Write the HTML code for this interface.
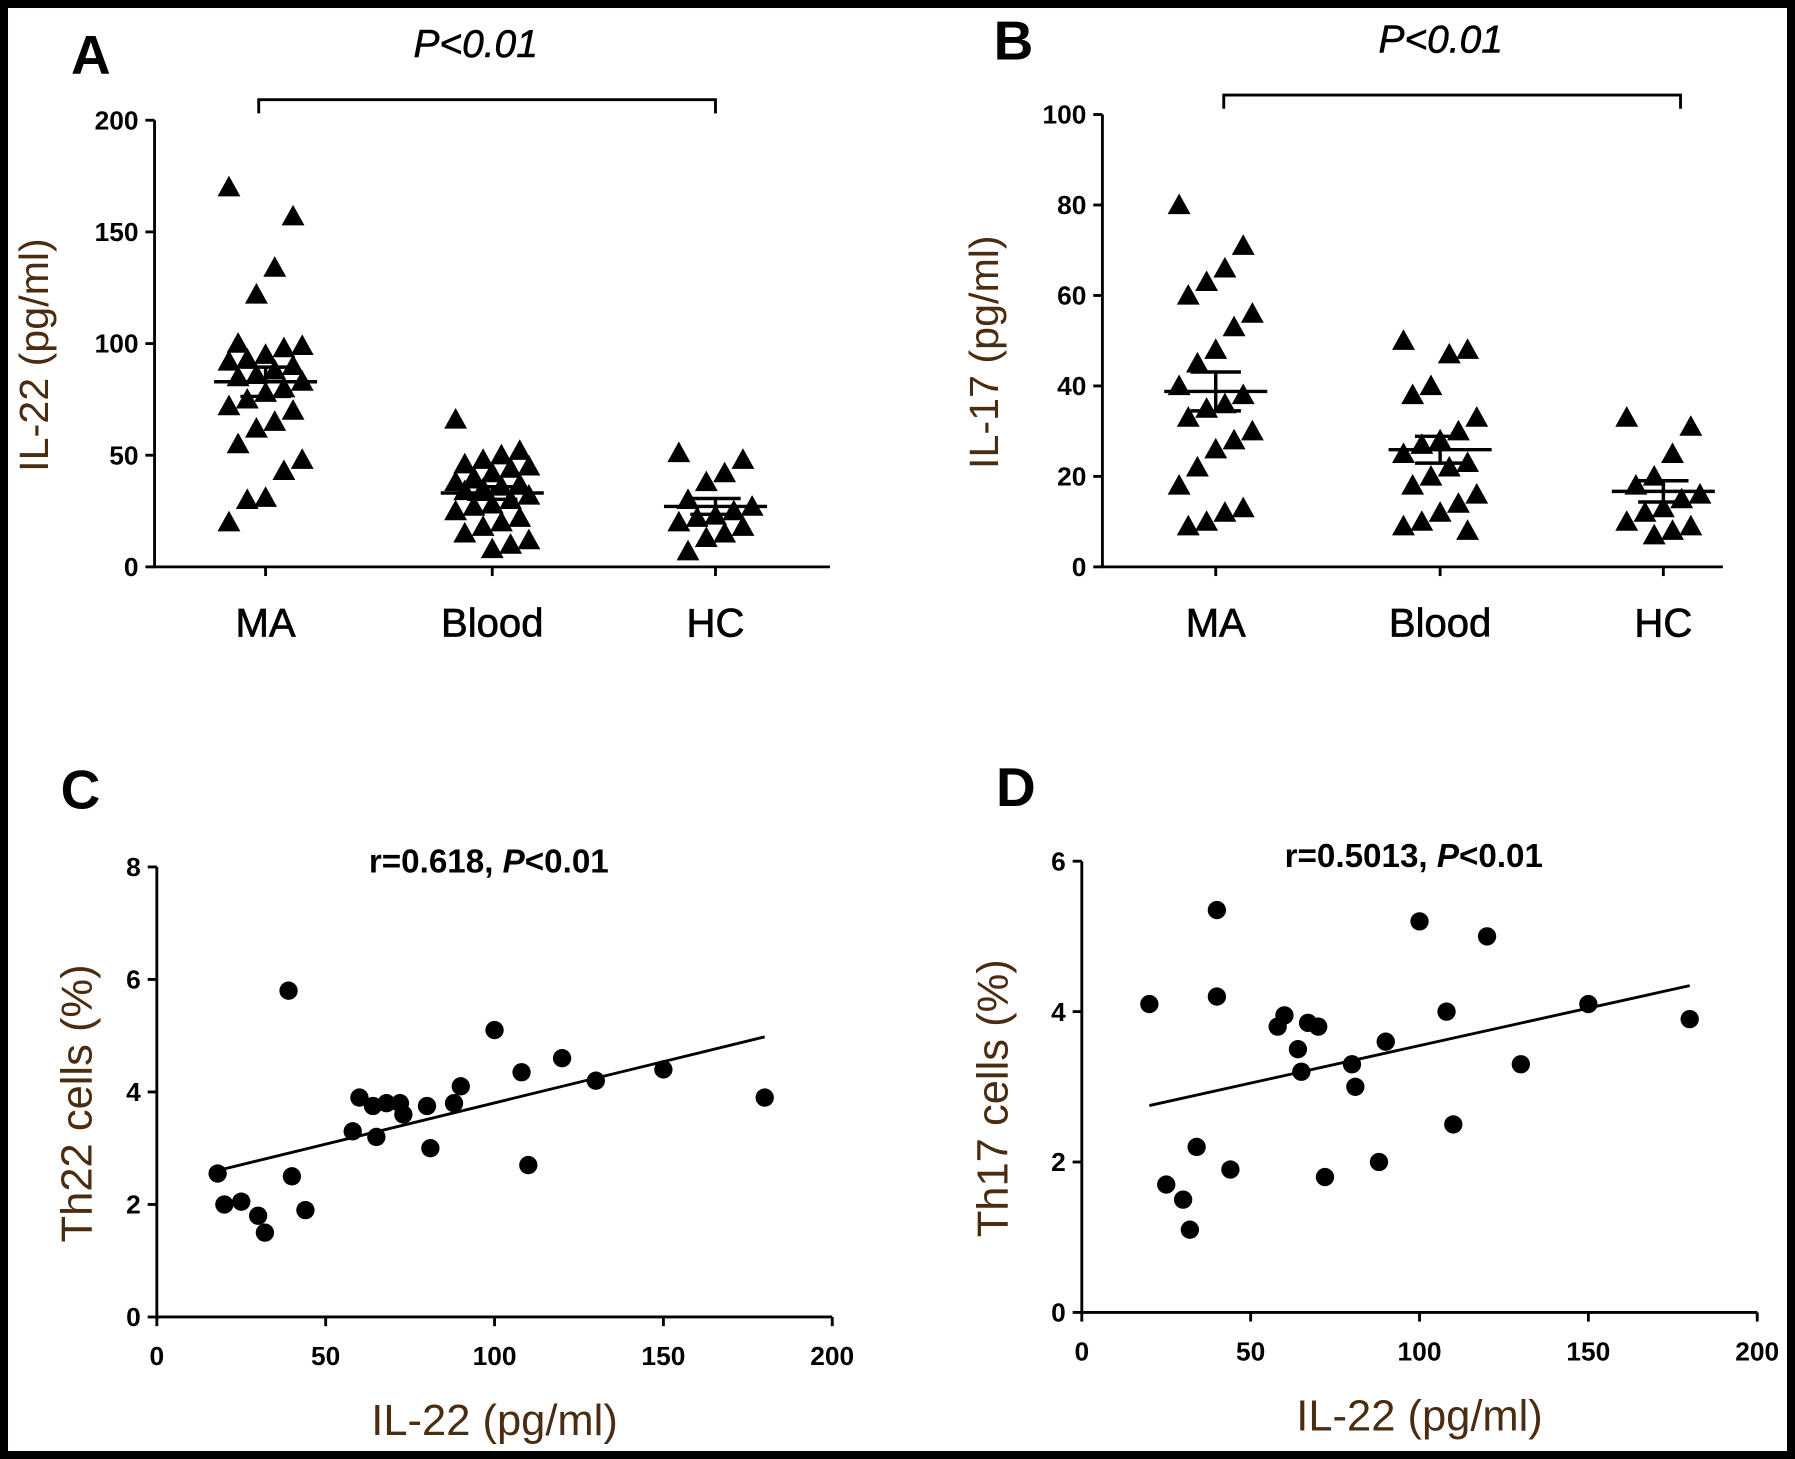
<!DOCTYPE html>
<html><head><meta charset="utf-8"><style>
html,body{margin:0;padding:0;background:#000;}
svg{display:block;}
text{font-family:"Liberation Sans",Arial,sans-serif;}
</style></head><body>
<svg id="fig" width="1795" height="1459" viewBox="0 0 1568 1274" preserveAspectRatio="none" xmlns="http://www.w3.org/2000/svg">
<rect x="0" y="0" width="1568" height="1274" fill="#000"/>
<rect x="7" y="7" width="1554" height="1260" fill="#fff"/>
<g id="root"></g>
</svg>
<script>
// ---- Data ----
const groupNames = ["MA","Blood","HC"];
const aMA = [170,157,134,122,100,99,98,95,93,92,90,88,86,85,83,80,78,75,72,70,65,62,55,48,43,31,30,20];
const aBlood = [66,52,50,48,46,45,44,42,40,38,37,36,35,34,32,30,28,27,25,22,20,18,15,12,10,8];
const aHC = [51,48,42,38,30,27,25,23,22,20,18,15,13,7];
const bMA = [80,71,66,63,60,56,53,48,45,40,38,36,35,33,30,28,26,22,18,13,12,10,9];
const bBlood = [50,48,47,40,38,33,30,28,27,25,23,22,20,18,16,14,12,10,9,8];
const bHC = [33,31,25,20,18,16,15,13,12,10,9,8,7];
const aTicks = [0,50,100,150,200];
const bTicks = [0,20,40,60,80,100];
const cX = [18,20,25,30,32,40,39,44,58,60,64,65,68,72,73,80,81,88,90,100,108,110,120,130,150,180];
const cY = [2.55,2.0,2.05,1.8,1.5,2.5,5.8,1.9,3.3,3.9,3.75,3.2,3.8,3.8,3.6,3.75,3.0,3.8,4.1,5.1,4.35,2.7,4.6,4.2,4.4,3.9];
const dX = [20,25,30,32,34,40,40,44,58,60,64,65,67,70,72,80,81,88,90,100,108,110,120,130,150,180];
const dY = [4.1,1.7,1.5,1.1,2.2,5.35,4.2,1.9,3.8,3.95,3.5,3.2,3.85,3.8,1.8,3.3,3.0,2.0,3.6,5.2,4.0,2.5,5.0,3.3,4.1,3.9];
const cYTicks = [0,2,4,6,8];
const dYTicks = [0,2,4,6];
const xTicks = [0,50,100,150,200];

const NS="http://www.w3.org/2000/svg";
const root=document.getElementById('root');
const BROWN="#4a2c10";
function el(tag,attrs,parent,txt){const e=document.createElementNS(NS,tag);for(const k in attrs)e.setAttribute(k,attrs[k]);if(txt!==undefined)e.textContent=txt;(parent||root).appendChild(e);return e;}
function mean(a){return a.reduce((s,v)=>s+v,0)/a.length;}
function sem(a){const m=mean(a);return Math.sqrt(a.reduce((s,v)=>s+(v-m)*(v-m),0)/(a.length-1))/Math.sqrt(a.length);}

function dotPanel(p){
  const g=el('g',{});
  
  
  const y=v=>p.y0-(v-p.min)/(p.max-p.min)*(p.y0-p.y1);
  const ax=el('path',{d:`M${p.x0},${p.y1}V${p.y0}H${p.xEnd}`,stroke:'#000','stroke-width':2.5,fill:'none'},g);
  
  
  p.ticks.forEach(t=>{
    el('line',{x1:p.x0-8,x2:p.x0,y1:y(t),y2:y(t),stroke:'#000','stroke-width':2.5},g);
    const tl=el('text',{x:p.x0-14,y:y(t)+8,'text-anchor':'end','font-size':23,'font-weight':'bold'},g,t);
    
    
  });
  const yt=el('text',{transform:`translate(${p.titleX},${(p.y0+p.y1)/2+10}) rotate(-90)`,'text-anchor':'middle','font-size':36,fill:BROWN},g,p.title);
  
  
  p.groups.forEach((arr,gi)=>{
    const cx=p.cx[gi];
    const cl=el('text',{x:cx,y:556,'text-anchor':'middle','font-size':35,stroke:'#000','stroke-width':0.6},g,groupNames[gi]);
    
    
    el('line',{x1:cx,x2:cx,y1:p.y0,y2:p.y0+8,stroke:'#000','stroke-width':2.5},g);
    arr.forEach((v,i)=>{
      const off=((i*7)%9-4)*8;
      const px=cx+off,py=y(v);
      const tri=el('path',{d:`M${px},${py-10}L${px+10},${py+8}L${px-10},${py+8}Z`,fill:'#000'},g);
      
      
    });
    const m=mean(arr),s=sem(arr);
    const ml=el('line',{x1:cx-45,x2:cx+45,y1:y(m),y2:y(m),stroke:'#000','stroke-width':3},g);
    
    
    const eb=el('path',{d:`M${cx},${y(m-s)}V${y(m+s)}M${cx-22},${y(m+s)}H${cx+22}M${cx-22},${y(m-s)}H${cx+22}`,stroke:'#000','stroke-width':3,fill:'none'},g);
    
    
  });
  const br=el('path',{d:`M${p.bx1},${p.by+12}V${p.by}H${p.bx2}V${p.by+12}`,stroke:'#000','stroke-width':2.5,fill:'none'},g);
  
  
  const pt=el('text',{x:(p.bx1+p.bx2)/2-10,y:p.by-37,'text-anchor':'middle','font-size':34,'font-style':'italic',stroke:'#000','stroke-width':0.5},g,'P<0.01');
  
  
  const pl=el('text',{x:p.lx,y:p.ly,'font-size':48,'font-weight':'bold'},g,p.letter);
  
  
}

function scatterPanel(p){
  const g=el('g',{});
  
  
  const x=v=>p.x0+v/200*(p.x1-p.x0);
  const y=v=>p.y0-v/p.max*(p.y0-p.y1);
  const ax=el('path',{d:`M${p.x0},${p.y1}V${p.y0}H${p.x1}`,stroke:'#000','stroke-width':2.5,fill:'none'},g);
  
  
  p.yt.forEach(t=>{
    el('line',{x1:p.x0-8,x2:p.x0,y1:y(t),y2:y(t),stroke:'#000','stroke-width':2.5},g);
    const tl=el('text',{x:p.x0-14,y:y(t)+8,'text-anchor':'end','font-size':23,'font-weight':'bold'},g,t);
    
    
  });
  xTicks.forEach(t=>{
    el('line',{x1:x(t),x2:x(t),y1:p.y0,y2:p.y0+8,stroke:'#000','stroke-width':2.5},g);
    const tl=el('text',{x:x(t),y:p.y0+42,'text-anchor':'middle','font-size':23,'font-weight':'bold'},g,t);
    
    
  });
  const yt=el('text',{transform:`translate(${p.titleX},${(p.y0+p.y1)/2+10}) rotate(-90)`,'text-anchor':'middle','font-size':38,fill:BROWN},g,p.title);
  
  
  const xt=el('text',{x:(p.x0+p.x1)/2,y:p.y0+103,'text-anchor':'middle','font-size':38,fill:BROWN},g,'IL-22 (pg/ml)');
  
  
  const n=p.xs.length,mx=mean(p.xs),my=mean(p.ys);
  let sxy=0,sxx=0;for(let i=0;i<n;i++){sxy+=(p.xs[i]-mx)*(p.ys[i]-my);sxx+=(p.xs[i]-mx)**2;}
  const b=sxy/sxx,a=my-b*mx;
  const xmin=Math.min(...p.xs),xmax=Math.max(...p.xs);
  const rl=el('line',{x1:x(xmin),y1:y(a+b*xmin),x2:x(xmax),y2:y(a+b*xmax),stroke:'#000','stroke-width':2.5},g);
  
  
  p.xs.forEach((v,i)=>{
    const c=el('circle',{cx:x(v),cy:y(p.ys[i]),r:8,fill:'#000'},g);
    
    
  });
  const st=el('text',{x:(p.x0+p.x1)/2-5,y:p.y1+5,'text-anchor':'middle','font-size':29,'font-weight':'bold'},g);
  
  
  el('tspan',{},st,p.r+', ');
  el('tspan',{'font-style':'italic'},st,'P');
  el('tspan',{},st,'<0.01');
  const pl=el('text',{x:p.lx,y:p.ly,'font-size':48,'font-weight':'bold'},g,p.letter);
  
  
}

dotPanel({name:'panel-a',x0:135,xEnd:725,y0:495,y1:105,min:0,max:200,ticks:aTicks,title:'IL-22 (pg/ml)',titleX:42,
  groups:[aMA,aBlood,aHC],cx:[232,430,625],bx1:226,bx2:625,by:87,letter:'A',lx:62,ly:64});
dotPanel({name:'panel-b',x0:963,xEnd:1505,y0:495,y1:100,min:0,max:100,ticks:bTicks,title:'IL-17 (pg/ml)',titleX:872,
  groups:[bMA,bBlood,bHC],cx:[1062,1258,1453],bx1:1069,bx2:1468,by:83,letter:'B',lx:868,ly:52});
scatterPanel({name:'panel-c',x0:137,x1:727,y0:1150,y1:757,max:8,yt:cYTicks,xs:cX,ys:cY,title:'Th22 cells (%)',titleX:80,r:'r=0.618',letter:'C',lx:53,ly:706});
scatterPanel({name:'panel-d',x0:945,x1:1535,y0:1146,y1:752,max:6,yt:dYTicks,xs:dX,ys:dY,title:'Th17 cells (%)',titleX:880,r:'r=0.5013',letter:'D',lx:870,ly:704});
</script>
</body></html>
